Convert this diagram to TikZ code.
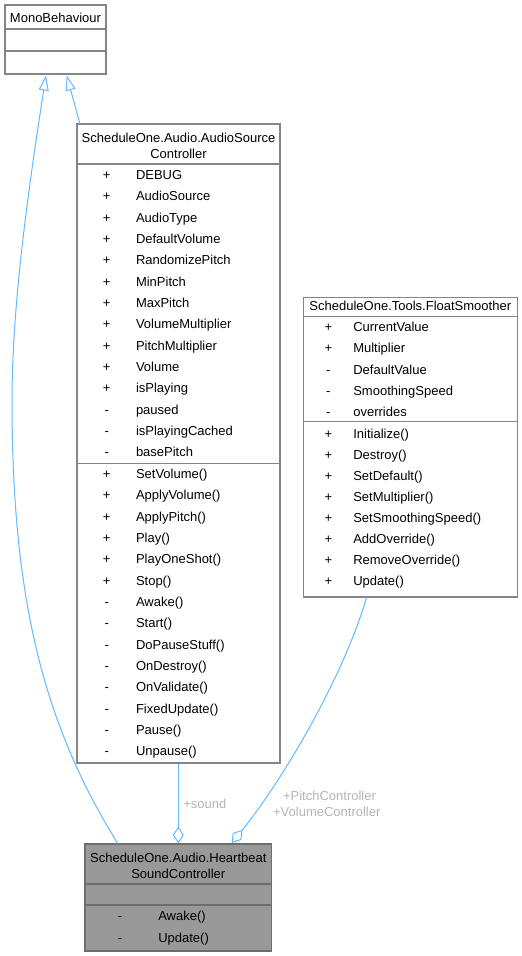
\documentclass[tikz,border=0pt]{standalone}
\usepackage{fontspec}
\setmainfont{Liberation Sans}
\usetikzlibrary{arrows.meta}
\definecolor{edgeblue}{HTML}{63B8FF}
\definecolor{boxgray}{HTML}{858585}
\definecolor{hlborder}{HTML}{6E6E6E}
\definecolor{hlfill}{HTML}{999999}
\definecolor{lblgray}{HTML}{B4B4B4}
\tikzset{
  umlbox/.style={draw=boxgray, line width=1.1pt, fill=white, inner sep=0pt, outer sep=0pt, anchor=north west},
  hlbox/.style={umlbox, fill=hlfill, draw=hlborder},
  sepline/.style={draw=boxgray, line width=1.1pt},
  hlsep/.style={draw=hlborder, line width=1.1pt},
  txt/.style={inner sep=0pt, outer sep=0pt, font=\fontsize{13}{16}\selectfont},
  member/.style={txt, anchor=base west},
  vis/.style={txt, anchor=base},
  ttl/.style={txt, anchor=base},
  elabel/.style={txt, text=lblgray},
  edge/.style={draw=edgeblue, line width=1pt},
  inherit/.style={edge, -{Triangle[open, length=15pt, width=10pt, fill=white]}},
  compose/.style={edge, {Diamond[open, length=17pt, width=11pt, fill=white]}-},
}
\begin{document}
\begin{tikzpicture}[x=1pt, y=-1pt]
\useasboundingbox (0,0) rectangle (522,956);

% ---- MonoBehaviour ----
\node[umlbox, minimum width=101pt, minimum height=69pt] (mono) at (5,5) {};
\draw[sepline] (5,29) -- (106,29);
\draw[sepline] (5,51) -- (106,51);
\node[ttl] (monot) at (55.5,22.5) {MonoBehaviour};

% ---- AudioSourceController ----
\node[umlbox, minimum width=203pt, minimum height=639pt] (asc) at (77,124) {};
\draw[sepline] (77,164) -- (280,164);
\draw[sepline] (77,463.5) -- (280,463.5);
\node[ttl] (asct1) at (178.5,142) {ScheduleOne.Audio.AudioSource};
\node[ttl] (asct2) at (178.5,158) {Controller};
\foreach \v/\n [count=\i from 0] in {+/DEBUG,+/AudioSource,+/AudioType,+/DefaultVolume,+/RandomizePitch,+/MinPitch,+/MaxPitch,+/VolumeMultiplier,+/PitchMultiplier,+/Volume,+/isPlaying,-/paused,-/isPlayingCached,-/basePitch}{
  \node[vis] (ascav\i) at (106.7,179.3+21.36*\i) {\v};
  \node[member] (ascan\i) at (136,179.3+21.36*\i) {\n};
}
\foreach \v/\n [count=\i from 0] in {+/SetVolume(),+/ApplyVolume(),+/ApplyPitch(),+/Play(),+/PlayOneShot(),+/Stop(),-/Awake(),-/Start(),-/DoPauseStuff(),-/OnDestroy(),-/OnValidate(),-/FixedUpdate(),-/Pause(),-/Unpause()}{
  \node[vis] (ascmv\i) at (106.7,478.3+21.36*\i) {\v};
  \node[member] (ascmn\i) at (136,478.3+21.36*\i) {\n};
}

% ---- FloatSmoother ----
\node[umlbox, minimum width=214pt, minimum height=299.5pt] (fs) at (303.3,297.5) {};
\draw[sepline] (303.3,316.7) -- (517.3,316.7);
\draw[sepline] (303.3,421.7) -- (517.3,421.7);
\node[ttl] (fst) at (410.3,310.8) {ScheduleOne.Tools.FloatSmoother};
\foreach \v/\n [count=\i from 0] in {+/CurrentValue,+/Multiplier,-/DefaultValue,-/SmoothingSpeed,-/overrides}{
  \node[vis] (fsav\i) at (328.3,331.7+21.2*\i) {\v};
  \node[member] (fsan\i) at (353.3,331.7+21.2*\i) {\n};
}
\foreach \v/\n [count=\i from 0] in {+/Initialize(),+/Destroy(),+/SetDefault(),+/SetMultiplier(),+/SetSmoothingSpeed(),+/AddOverride(),+/RemoveOverride(),+/Update()}{
  \node[vis] (fsmv\i) at (328.3,438.5+20.98*\i) {\v};
  \node[member] (fsmn\i) at (353.3,438.5+20.98*\i) {\n};
}

% ---- HeartbeatSoundController ----
\node[hlbox, minimum width=186.7pt, minimum height=107pt] (hb) at (85,844) {};
\draw[hlsep] (85,884) -- (271.7,884);
\draw[hlsep] (85,905) -- (271.7,905);
\node[ttl] (hbt1) at (178.3,862.3) {ScheduleOne.Audio.Heartbeat};
\node[ttl] (hbt2) at (178.3,878.3) {SoundController};
\node[vis] (hbv0) at (120,920) {-};
\node[member] (hbn0) at (158.3,920) {Awake()};
\node[vis] (hbv1) at (120,942) {-};
\node[member] (hbn1) at (158.3,942) {Update()};

% ---- attachment points ----
\coordinate (monoA) at (46,75.5);
\coordinate (monoB) at (66.7,75.5);
\coordinate (ascTop) at (80,124);
\coordinate (ascBot) at (178.3,763.5);
\coordinate (fsBot) at (366.7,597);
\coordinate (hbA) at (118,844);
\coordinate (hbSound) at (178.3,843.5);
\coordinate (hbFs) at (231.7,843);

% ---- connectors ----
\draw[inherit] (hbA) .. controls (43.6,724) and (12,600) .. (12,400)
                     .. controls (12,300) and (30.4,176) .. (monoA);
\draw[inherit] (ascTop) -- (monoB);
\draw[compose] (hbSound) -- (ascBot);
\draw[compose] (hbFs) .. controls (282.2,780.9) and (343.5,677) .. (fsBot);

% ---- edge labels ----
\node[elabel, anchor=base west] (lsound) at (183.3,808.3) {+sound};
\node[elabel, anchor=base] (lpitch) at (329.5,800.7) {+PitchController};
\node[elabel, anchor=base] (lvol) at (326.8,816.7) {+VolumeController};
\end{tikzpicture}
\end{document}
